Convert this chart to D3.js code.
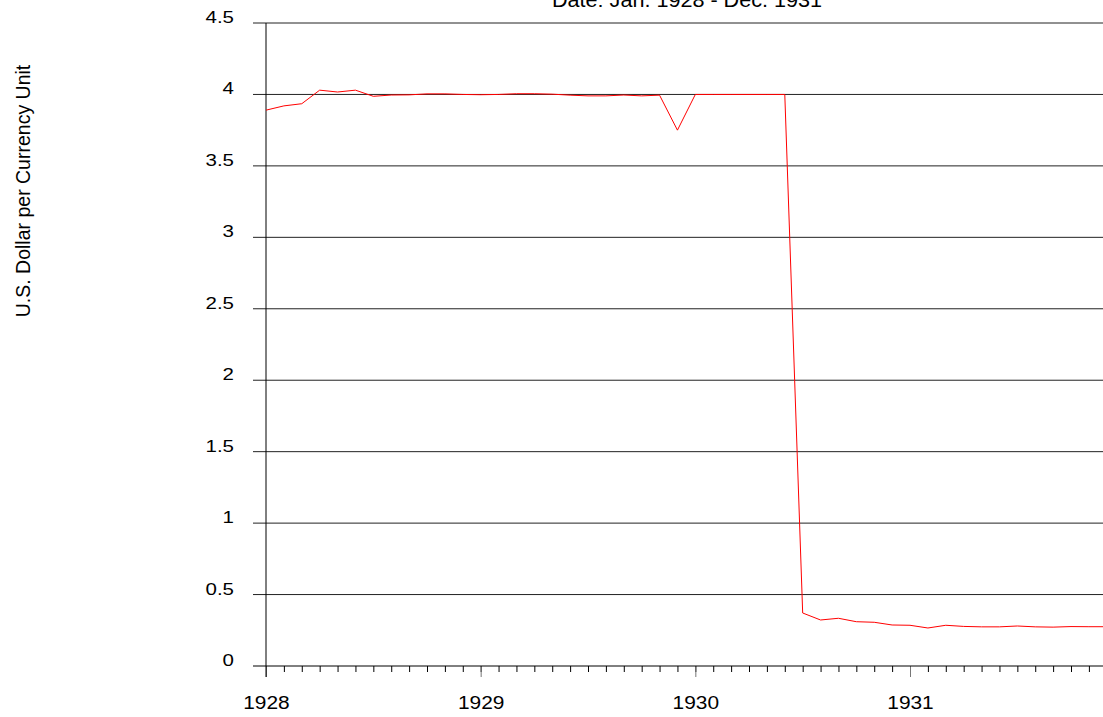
<!DOCTYPE html>
<html>
<head>
<meta charset="utf-8">
<script src="https://cdn.jsdelivr.net/npm/d3@7"></script>
<style>
  body { margin: 0; background: #fff; }
  svg { display: block; font-family: "Liberation Sans", Arial, sans-serif; }
</style>
</head>
<body>
<script>
// ---------------------------------------------------------------------------
// Data
// ---------------------------------------------------------------------------

var title = "Date: Jan. 1928 - Dec. 1931";
var yLabel = "U.S. Dollar per Currency Unit";

var years = [1928, 1929, 1930, 1931];

// monthly rate, Jan. 1928 .. Dec. 1931
var rates = [
  3.89, 3.92, 3.935, 4.03, 4.017, 4.03, 3.987, 3.996, 3.997, 4.004, 4.004, 4.0,
  3.998, 4.0, 4.005, 4.005, 4.002, 3.995, 3.99, 3.99, 3.996, 3.99, 3.995, 3.75,
  4.0, 4.0, 4.0, 4.0, 4.0, 4.0, 0.371, 0.322, 0.334, 0.31, 0.306, 0.287,
  0.285, 0.266, 0.285, 0.277, 0.274, 0.274, 0.28, 0.274, 0.272, 0.276, 0.275, 0.275
];

var yTicks = [0, 0.5, 1, 1.5, 2, 2.5, 3, 3.5, 4, 4.5];

// ---------------------------------------------------------------------------
// Layout
// ---------------------------------------------------------------------------

var width = 1103, height = 717;
var plotLeft = 266, plotTop = 23, plotBottom = 666;
var yearWidth = 214.67;

var svg = d3.select("body").append("svg")
  .attr("width", width)
  .attr("height", height);

var x = d3.scaleLinear()
  .domain([years[0], years[0] + years.length])
  .range([plotLeft, plotLeft + yearWidth * years.length]);

var y = d3.scaleLinear()
  .domain([0, 4.5])
  .range([plotBottom, plotTop]);

var months = rates.map(function(d, i) { return years[0] + i / 12; });

// gridlines (also the left ticks)
svg.append("g")
  .selectAll("line")
  .data(yTicks.filter(function(d) { return d > 0; }))
  .enter().append("line")
    .attr("x1", 253)
    .attr("x2", width)
    .attr("y1", function(d) { return y(d); })
    .attr("y2", function(d) { return y(d); })
    .attr("stroke", "#222")
    .attr("stroke-width", 1);

// y tick labels
svg.append("g")
  .selectAll("text")
  .data(yTicks)
  .enter().append("text")
    .attr("transform", function(d) { return "translate(234," + y(d) + ") scale(1.28,1)"; })
    .attr("text-anchor", "end")
    .attr("font-size", 16)
    .attr("fill", "#000")
    .text(function(d) { return d; });

// minor month ticks
var xMinor = svg.append("g")
  .attr("transform", "translate(0," + plotBottom + ")")
  .call(d3.axisBottom(x).tickValues(months).tickSize(6).tickFormat(""));
xMinor.select(".domain").remove();
xMinor.selectAll(".tick line").attr("stroke", "#000");

// year ticks and labels
var xMajor = svg.append("g")
  .attr("transform", "translate(0," + plotBottom + ")")
  .attr("font-size", 19)
  .attr("font-family", "Liberation Sans, Arial, sans-serif")
  .call(d3.axisBottom(x).tickValues(years).tickSize(11).tickPadding(0).tickFormat(d3.format("d")));
xMajor.select(".domain").remove();
xMajor.attr("font-size", 19).attr("font-family", "Liberation Sans, Arial, sans-serif");
xMajor.selectAll(".tick line").attr("stroke", "#777");
xMajor.selectAll(".tick text")
  .attr("y", 43)
  .attr("dy", null)
  .attr("fill", "#000")
  .attr("transform", "scale(1.1,1)");

// axis lines
svg.append("line")
  .attr("x1", 253).attr("x2", width)
  .attr("y1", plotBottom).attr("y2", plotBottom)
  .attr("stroke", "#000");
svg.append("line")
  .attr("x1", plotLeft).attr("x2", plotLeft)
  .attr("y1", plotTop).attr("y2", plotBottom + 11)
  .attr("stroke", "#000");

// series
var line = d3.line()
  .x(function(d, i) { return x(months[i]); })
  .y(function(d) { return y(d); });

svg.append("path")
  .datum(rates)
  .attr("d", line)
  .attr("fill", "none")
  .attr("stroke", "#f00")
  .attr("stroke-width", 1);

// title
svg.append("text")
  .attr("transform", "translate(687,7) scale(1.08,1)")
  .attr("text-anchor", "middle")
  .attr("font-size", 20)
  .attr("fill", "#000")
  .text(title);

// y label
svg.append("text")
  .attr("transform", "translate(30,191) rotate(-90)")
  .attr("text-anchor", "middle")
  .attr("font-size", 19.5)
  .attr("fill", "#000")
  .text(yLabel);
</script>
</body>
</html>
